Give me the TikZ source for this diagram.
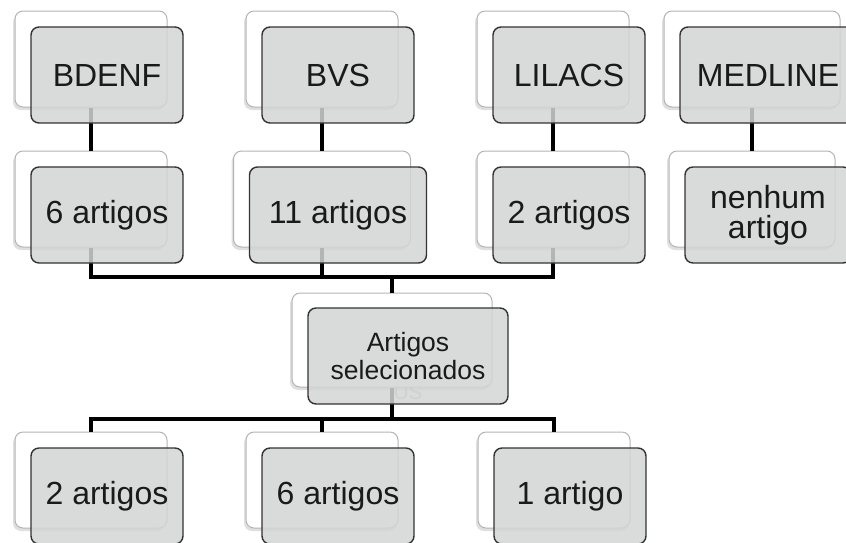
\documentclass[tikz,border=0pt]{standalone}
\usepackage{fontspec}
\setmainfont{Liberation Sans}
\usetikzlibrary{shadows}

\pgfdeclarelayer{ghost}
\pgfdeclarelayer{back}
\pgfdeclarelayer{links}
\pgfsetlayers{ghost,back,links,main}

\definecolor{cardgray}{HTML}{D3D5D5}
\definecolor{cardedge}{HTML}{333333}
\definecolor{backedge}{HTML}{B4B4B4}
\definecolor{inktext}{HTML}{1A1A1A}

\tikzset{
  backcard/.style={draw=backedge, line width=1pt, fill=white, rounded corners=8pt,
    minimum height=96pt, inner sep=0pt,
    drop shadow={shadow xshift=-2pt, shadow yshift=-3pt, opacity=0.25}},
  frontcard/.style={draw=cardedge, line width=1.4pt, fill=cardgray, fill opacity=0.85,
    text opacity=1, text=inktext, rounded corners=8pt, minimum height=96pt,
    inner sep=0pt, align=center, font=\fontsize{32}{30}\selectfont},
  link/.style={line width=4.5pt, line join=miter}
}

\begin{document}
\begin{tikzpicture}[x=1pt, y=-1pt]
  \useasboundingbox (0,0) rectangle (846,542);

  % cards: back card on its own layer, front card shifted down-right
  \foreach \name/\cx/\cy/\w/\txt in {
      bdenf/91/59/152/BDENF, bvs/322/59/152/BVS,
      lilacs/553/59/152/LILACS, medline/752/59/176/MEDLINE,
      rb/91/199/152/6 artigos, rv/322/199/177/11 artigos,
      rl/553/199/152/2 artigos, rm/752/199/166/{nenhum\\artigo},
      la/91/480/152/2 artigos, lb/322/480/152/6 artigos,
      lc/554/480/152/1 artigo} {
    \begin{pgfonlayer}{back}
      \node[backcard, minimum width=\w pt] (\name) at (\cx,\cy) {};
    \end{pgfonlayer}
    \node[frontcard, minimum width=\w pt] (\name-f) at ([shift={(16,16)}]\name.center) {\txt};
  }

  % middle card
  \begin{pgfonlayer}{ghost}
    \node[text=gray!45, font=\fontsize{27}{28}\selectfont, anchor=base, inner sep=0pt] (ghost) at (408,399) {os};
  \end{pgfonlayer}
  \begin{pgfonlayer}{back}
    \node[backcard, minimum width=200pt, minimum height=94pt] (sel) at (392,340) {};
  \end{pgfonlayer}
  \node[frontcard, minimum width=200pt, minimum height=96pt, font=\fontsize{26.5}{28}\selectfont]
    (sel-f) at ([shift={(16,16)}]sel.center) {Artigos\\selecionados};

  % connectors
  \coordinate (upbus) at (392,277);
  \coordinate (lowbus) at (392,419);
  \begin{pgfonlayer}{links}
    \draw[link] (bdenf.south) -- (rb.north);
    \draw[link] (bvs.south) -- (rv.north);
    \draw[link] (lilacs.south) -- (rl.north);
    \draw[link] (medline.south) -- (rm.north);
    \draw[link] (rb.south) |- (upbus) -| (rl.south);
    \draw[link] (rv.south) -- (rv.south |- upbus);
    \draw[link] (upbus) -- (sel.north);
    \draw[link] (sel.south) -- (lowbus);
    \draw[link] (la.north) |- (lowbus) -| (lc.north);
    \draw[link] (lb.north) -- (lb.north |- lowbus);
  \end{pgfonlayer}
\end{tikzpicture}
\end{document}
